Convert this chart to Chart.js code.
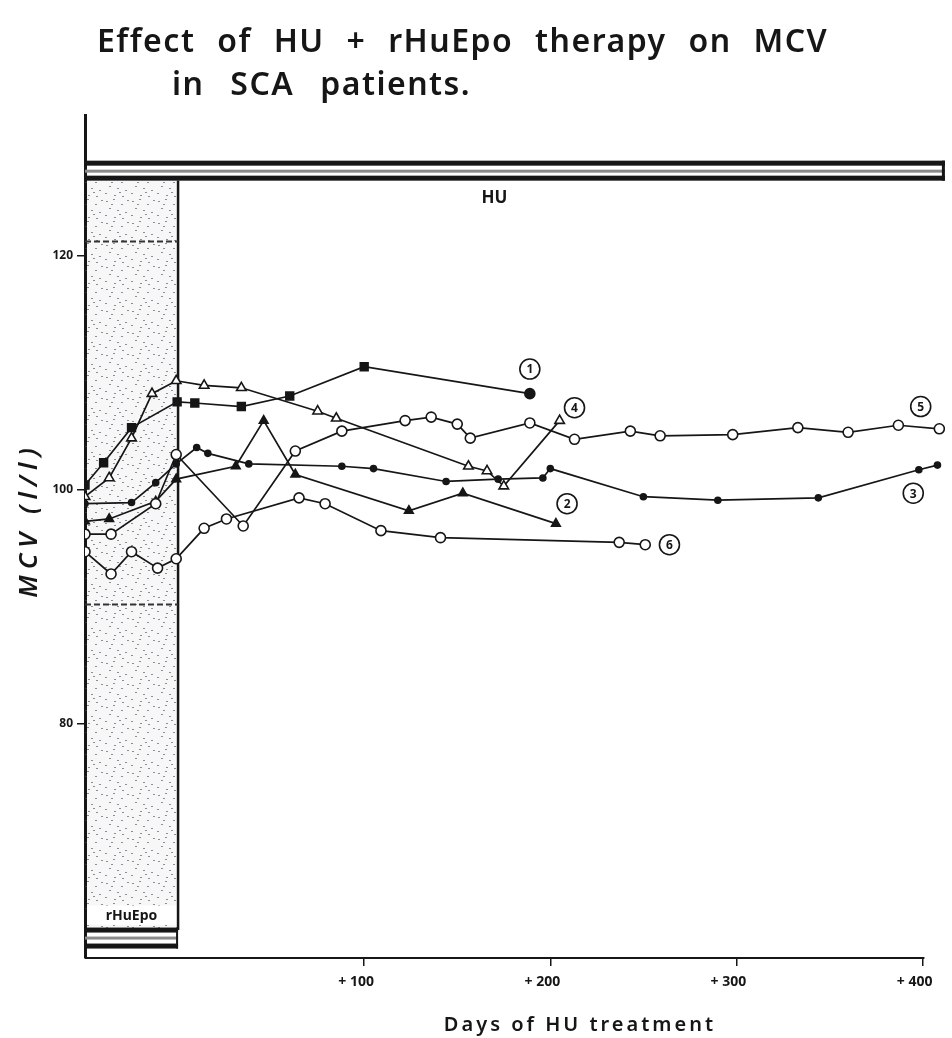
<!DOCTYPE html>
<html>
<head>
<meta charset="utf-8">
<script src="https://cdn.jsdelivr.net/npm/chart.js@4"></script>
<style>
  html, body { margin: 0; padding: 0; background: #fff; }
  #wrap { position: relative; width: 952px; height: 1038px; }
  canvas { position: absolute; left: 0; top: 0; }
  .t { position: absolute; font-family: "Noto Sans", sans-serif; font-size: 32px; font-weight: 600;
       color: #161616; white-space: pre; letter-spacing: 1.5px; word-spacing: 12px; }
</style>
</head>
<body>
<div id="wrap">
  <canvas id="c" width="952" height="1038"></canvas>
  <div class="t" style="left:97px; top:18px;">Effect of HU + rHuEpo therapy on MCV</div>
  <div class="t" style="left:172px; top:61px; word-spacing:16px;">in SCA patients.</div>
</div>
<script>
// tick values
const xTicks = [100, 200, 300, 400];
const yTicks = [80, 100, 120];

// patient 1 .. 6 : days of HU treatment / MCV
const p1Days = [-50, -40, -25, -0.5, 9, 34, 60, 100, 189];
const p1Mcv  = [100.4, 102.3, 105.3, 107.5, 107.4, 107.1, 108.0, 110.5, 108.2];

const p2Days = [-50, -37, -12, -1, 31, 46, 63, 124, 153, 203];
const p2Mcv  = [97.3, 97.5, 99.0, 100.9, 102.0, 105.9, 101.3, 98.2, 99.7, 97.1];

const p3Days = [-50, -25, -12, -1, 10, 16, 38, 88, 105, 144, 172, 196, 200, 250, 290, 344, 398, 408];
const p3Mcv  = [98.8, 98.9, 100.6, 102.2, 103.6, 103.1, 102.2, 102.0, 101.8, 100.7, 100.9, 101.0, 101.8, 99.4, 99.1, 99.3, 101.7, 102.1];

const p4Days = [-50, -37, -25, -14, -1, 14, 34, 75, 85, 156, 166, 175, 205];
const p4Mcv  = [99.4, 101.0, 104.4, 108.2, 109.3, 108.9, 108.7, 106.7, 106.1, 102.0, 101.6, 100.3, 105.9];

const p5Days = [-50, -36, -12, -1, 35, 63, 88, 122, 136, 150, 157, 189, 213, 243, 259, 298, 333, 360, 387, 409];
const p5Mcv  = [96.2, 96.2, 98.8, 103.0, 96.9, 103.3, 105.0, 105.9, 106.2, 105.6, 104.4, 105.7, 104.3, 105.0, 104.6, 104.7, 105.3, 104.9, 105.5, 105.2];

const p6Days = [-50, -36, -25, -11, -1, 14, 26, 65, 79, 109, 141, 237, 251];
const p6Mcv  = [94.7, 92.8, 94.7, 93.3, 94.1, 96.7, 97.5, 99.3, 98.8, 96.5, 95.9, 95.5, 95.3];

// circled patient numbers, placed in data coordinates
const tags = [
  { n: '1', day: 189, mcv: 110.3 },
  { n: '4', day: 213, mcv: 107.0 },
  { n: '2', day: 209, mcv: 98.8 },
  { n: '5', day: 399, mcv: 107.1 },
  { n: '3', day: 395, mcv: 99.7 },
  { n: '6', day: 264, mcv: 95.3 }
];

const ink = '#161616';
const pts = (d, v) => d.map((x, i) => ({ x, y: v[i] }));

function series(days, mcv, style, fill, radius) {
  return {
    data: pts(days, mcv),
    borderColor: ink,
    borderWidth: 1.7,
    pointStyle: style,
    pointRadius: radius,
    pointBackgroundColor: fill,
    pointBorderColor: ink,
    pointBorderWidth: 1.6,
    tension: 0
  };
}

const p1Style = p1Days.map((_, i) => i === p1Days.length - 1 ? 'circle' : 'rect');
const p1Radius = p1Days.map((_, i) => i === p1Days.length - 1 ? 5 : 5.5);

function stipple(ctx) {
  const c = document.createElement('canvas');
  c.width = 26; c.height = 22;
  const g = c.getContext('2d');
  g.fillStyle = 'rgba(70,70,85,0.6)';
  [[2,3],[9,1],[17,6],[23,2],[5,10],[13,12],[21,14],[1,17],[10,19],[18,20],[7,6],[15,16]]
    .forEach(([px, py]) => g.fillRect(px, py, 2, 1));
  return ctx.createPattern(c, 'repeat');
}

const decor = {
  id: 'decor',
  beforeDatasetsDraw(chart) {
    const { ctx, scales: { x, y }, chartArea: a } = chart;
    const x0 = x.getPixelForValue(-50), x1 = x.getPixelForValue(0);
    const bandTop = y.getPixelForValue(126.4), bandBot = y.getPixelForValue(62.4);
    ctx.save();
    // rHuEpo period
    ctx.fillStyle = 'rgba(0,0,0,0.03)';
    ctx.fillRect(x0, bandTop, x1 - x0, bandBot - bandTop);
    ctx.fillStyle = stipple(ctx);
    ctx.fillRect(x0, bandTop, x1 - x0, bandBot - bandTop);
    ctx.strokeStyle = ink;
    ctx.lineWidth = 2.5;
    ctx.beginPath(); ctx.moveTo(x1, bandTop); ctx.lineTo(x1, bandBot); ctx.stroke();
    // dashed marks inside the band
    ctx.setLineDash([6, 3]);
    ctx.lineWidth = 2;
    ctx.strokeStyle = '#333';
    [121.2, 90.2].forEach(v => {
      const py = y.getPixelForValue(v);
      ctx.beginPath(); ctx.moveTo(x0, py); ctx.lineTo(x1, py); ctx.stroke();
    });
    ctx.setLineDash([]);
    // HU bar
    const hTop = y.getPixelForValue(128.1);
    ctx.fillStyle = ink;
    ctx.fillRect(a.left, hTop, a.right - a.left, 5);
    ctx.fillStyle = '#8a8a8a';
    ctx.fillRect(a.left, hTop + 9, a.right - a.left, 3);
    ctx.fillStyle = ink;
    ctx.fillRect(a.left, hTop + 15, a.right - a.left, 5);
    ctx.fillRect(a.right - 3, hTop, 3, 20);
    // rHuEpo bar
    const eTop = y.getPixelForValue(62.6);
    ctx.fillRect(x0, eTop, x1 - x0, 5);
    ctx.fillStyle = '#8a8a8a';
    ctx.fillRect(x0, eTop + 9, x1 - x0, 3);
    ctx.fillStyle = ink;
    ctx.fillRect(x0, eTop + 16, x1 - x0, 5);
    ctx.fillRect(x1 - 2, eTop, 2, 21);
    // labels
    ctx.font = 'bold 17px "Noto Sans", sans-serif';
    ctx.textAlign = 'center';
    ctx.textBaseline = 'middle';
    ctx.fillText('HU', x.getPixelForValue(170), hTop + 37);
    ctx.font = 'bold 14px "Noto Sans", sans-serif';
    ctx.fillStyle = '#fff';
    ctx.fillRect(x0 + 2, eTop - 22, x1 - x0 - 4, 19);
    ctx.fillStyle = ink;
    ctx.fillText('rHuEpo', (x0 + x1) / 2, eTop - 12);
    ctx.restore();
  },
  afterDraw(chart) {
    const { ctx, scales: { x, y } } = chart;
    ctx.save();
    // x axis line, ends at +400
    ctx.strokeStyle = ink;
    ctx.lineWidth = 2;
    const yb = y.getPixelForValue(60);
    ctx.beginPath(); ctx.moveTo(x.getPixelForValue(-50), yb); ctx.lineTo(x.getPixelForValue(401), yb); ctx.stroke();
    // circled patient numbers
    ctx.lineWidth = 1.6;
    ctx.font = 'bold 12px "Noto Sans", sans-serif';
    ctx.textAlign = 'center';
    ctx.textBaseline = 'middle';
    tags.forEach(t => {
      const px = x.getPixelForValue(t.day), py = y.getPixelForValue(t.mcv);
      ctx.fillStyle = '#fff';
      ctx.beginPath(); ctx.arc(px, py, 10, 0, Math.PI * 2); ctx.fill(); ctx.stroke();
      ctx.fillStyle = ink;
      ctx.fillText(t.n, px, py + 1);
    });
    // axis titles
    ctx.font = '600 20px "Noto Sans", sans-serif';
    ctx.letterSpacing = '3px';
    ctx.fillText('Days of HU treatment', 580, 1025);
    ctx.translate(30, 520);
    ctx.rotate(-Math.PI / 2);
    ctx.font = 'italic 600 26px "Noto Sans", sans-serif';
    ctx.letterSpacing = '6px';
    ctx.fillText('MCV (l/l)', 0, 0);
    ctx.restore();
  }
};

new Chart(document.getElementById('c'), {
  type: 'line',
  data: {
    datasets: [
      series(p6Days, p6Mcv, 'circle', '#fff', 5),
      series(p5Days, p5Mcv, 'circle', '#fff', 5),
      series(p3Days, p3Mcv, 'circle', ink, 3),
      series(p2Days, p2Mcv, 'triangle', ink, 5),
      series(p4Days, p4Mcv, 'triangle', '#fff', 5.5),
      series(p1Days, p1Mcv, p1Style, ink, p1Radius)
    ]
  },
  options: {
    responsive: false,
    animation: false,
    layout: { padding: { left: 0, top: 115, right: 3, bottom: 0 } },
    plugins: { legend: { display: false }, tooltip: { enabled: false } },
    scales: {
      x: {
        type: 'linear',
        min: -50,
        max: 412,
        border: { display: false },
        grid: { drawOnChartArea: false, drawTicks: true, tickLength: 8, color: ink, lineWidth: 1.5 },
        afterBuildTicks: s => { s.ticks = xTicks.map(v => ({ value: v })); },
        afterFit: s => { s.height = 80; },
        ticks: {
          callback: v => '+ ' + v,
          color: ink,
          padding: 8,
          labelOffset: -8,
          maxRotation: 0,
          font: { family: '"Noto Sans", sans-serif', size: 14, weight: 'bold' }
        }
      },
      y: {
        min: 60,
        max: 132,
        border: { display: true, color: ink, width: 3 },
        grid: { drawOnChartArea: false, drawTicks: true, tickLength: 8, color: ink, lineWidth: 1.5 },
        afterBuildTicks: s => { s.ticks = yTicks.map(v => ({ value: v })); },
        afterFit: s => { s.width = 85; },
        ticks: {
          color: ink,
          padding: 4,
          font: { family: '"Noto Sans", sans-serif', size: 12, weight: 'bold' }
        }
      }
    }
  },
  plugins: [decor]
});
</script>
</body>
</html>
